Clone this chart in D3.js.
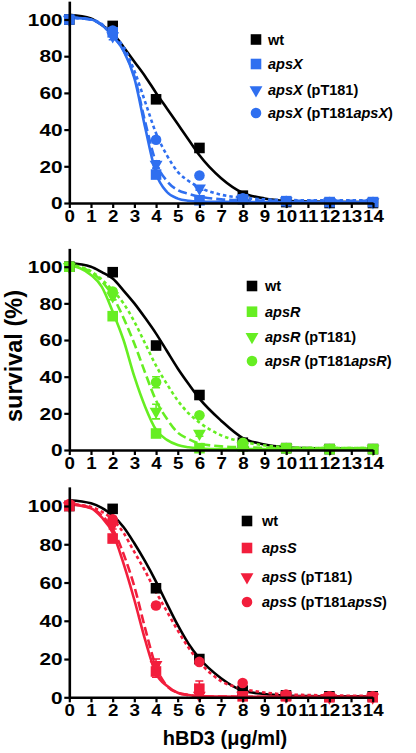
<!DOCTYPE html>
<html><head><meta charset="utf-8">
<script src="https://cdn.jsdelivr.net/npm/d3@7"></script>
<style>
body{margin:0;background:#fff}
text{font-family:Arial,'Liberation Sans',Helvetica,sans-serif;font-weight:bold;fill:#000}
</style>
</head><body><svg id="c" width="416" height="753"></svg>
<script>
// ---------- data ----------
const doses = [0, 2, 4, 6, 8, 10, 12, 14];
const xTicks = [0,1,2,3,4,5,6,7,8,9,10,11,12,13,14];
const yTicks = [0, 20, 40, 60, 80, 100];
const genes = ["apsX", "apsR", "apsS"];
const colors = ["#2f6ff0", "#66ee22", "#f21e3c"];
const curveX = [0,1,1.5,2,2.5,3,3.5,4,4.5,5,5.5,6,7,8,9,10,11,12,13,14];

// panel 1 (apsX): measured means
const p1Wt   = [100, 96.5, 56.5, 30, 4, 0.5, 0, 0];
const p1Mut  = [100, 93, 15.5, 1.5, 2, 1, 0.5, 0.5];
const p1Vec  = [100, 91, 21, 8, 2, 1, 0.5, 0.5];
const p1Comp = [100, 94, 34.5, 15, 2.5, 1, 0.5, 0.5];
const p1WtErr   = [0, 2, 2, 1, 1, 0, 0, 0];
const p1MutErr  = [0, 2, 1.5, 0.5, 0.5, 0, 0, 0];
const p1VecErr  = [0, 2, 2, 1, 0.5, 0, 0, 0];
const p1CompErr = [0, 1, 1.5, 1, 0.5, 0, 0, 0];
// panel 1 fitted curves (read at curveX)
const p1WtFit   = [102.5,100.5,97,92.5,85,77,69,60,51.5,43,34.5,26,13.5,5.5,2.5,1.2,0.8,0.6,0.5,0.5];
const p1MutFit  = [101,100,97,91,83,68,41,16,6,2.4,1.2,0.8,0.6,0.5,0.5,0.5,0.5,0.5,0.5,0.5];
const p1VecFit  = [101,100,97,91,83,69,44,22,12,7,5,3.5,2,1.5,1.3,1.2,1.2,1.2,1.2,1.2];
const p1CompFit = [101,100,97.5,92,85,72,55,38,26,17,12,8.5,4.5,2.8,2,1.6,1.5,1.5,1.5,1.5];

// panel 2 (apsR)
const p2Wt   = [100, 97, 57, 30, 4, 1, 0.5, 0.5];
const p2Mut  = [100, 73, 9, 1, 2, 1, 0.5, 0.5];
const p2Vec  = [100, 84, 21, 9, 2, 1, 0.5, 0.5];
const p2Comp = [100, 86.5, 37, 19, 4, 1, 0.5, 0.5];
const p2WtErr   = [0, 1.5, 2, 1, 1, 0, 0, 0];
const p2MutErr  = [0, 2, 1, 0.5, 0.5, 0, 0, 0];
const p2VecErr  = [0, 2, 4, 1.5, 0.5, 0, 0, 0];
const p2CompErr = [0, 1.5, 3, 1, 1, 0, 0, 0];
const p2WtFit   = [102,100,97,93.5,87,80,72,63.5,54,44.5,36,28,16,6.5,3,1.5,1,0.8,0.6,0.5];
const p2MutFit  = [101,95.5,89,75.5,60,40,23.5,11,5.5,2.7,1.5,0.8,0.5,0.5,0.5,0.5,0.5,0.5,0.5,0.5];
const p2VecFit  = [101,97,92,84,72,58,42,27,17,9.5,6,3.5,2,1.5,1.2,1,1,1,1,1];
const p2CompFit = [101,97.5,93,87,80,70,58,46,36,27,20,15,8,4.5,2.5,1.5,1.2,1,1,1];

// panel 3 (apsS)
const p3Wt   = [100, 98.5, 57, 20, 3.5, 1, 0.5, 0.5];
const p3Mut  = [100, 83, 13.5, 4.5, 0.5, 0.5, 0, 0];
const p3Vec  = [100, 90, 17, 1, 1, 0.5, 0, 0];
const p3Comp = [101, 93, 48, 18.5, 7.5, 1.5, 0.5, 0.5];
const p3WtErr   = [0, 1, 2, 1, 1, 0, 0, 0];
const p3MutErr  = [0, 2, 3, 4, 0.5, 0, 0, 0];
const p3VecErr  = [0, 2, 3, 0.5, 0.5, 0, 0, 0];
const p3CompErr = [0, 1.5, 1.5, 1, 1, 0, 0, 0];
const p3WtFit   = [103,101.4,99,95,89,80.5,71,60.5,49,37.8,28,20.4,10,3.5,1.7,0.9,0.6,0.5,0.5,0.5];
const p3MutFit  = [101,98.8,94,86,70,51,30,12.5,6,2.4,1.2,0.6,0.4,0.3,0.3,0.3,0.3,0.3,0.3,0.3];
const p3VecFit  = [101,99,95,88,75,58,36,16,6,2.4,1.2,0.6,0.4,0.3,0.3,0.3,0.3,0.3,0.3,0.3];
const p3CompFit = [101,99.5,97,93,86,76,66,55,45,35,26,18.5,8.5,4.5,2.5,1.5,1.2,1,0.8,0.7];

// ---------- layout ----------
const panels = [
  {gene: 0, pts: [p1Wt,p1Mut,p1Vec,p1Comp], err: [p1WtErr,p1MutErr,p1VecErr,p1CompErr],
   fits: [p1WtFit,p1MutFit,p1VecFit,p1CompFit],
   xl: 69.3, xr: 373, y0: 203, y100: 19.5, lx: 256, ltx: 268, ly: [39.5, 64, 90, 113]},
  {gene: 1, pts: [p2Wt,p2Mut,p2Vec,p2Comp], err: [p2WtErr,p2MutErr,p2VecErr,p2CompErr],
   fits: [p2WtFit,p2MutFit,p2VecFit,p2CompFit],
   xl: 69.3, xr: 373, y0: 450, y100: 266.7, lx: 252, ltx: 265, ly: [286, 311.7, 336.7, 361]},
  {gene: 2, pts: [p3Wt,p3Mut,p3Vec,p3Comp], err: [p3WtErr,p3MutErr,p3VecErr,p3CompErr],
   fits: [p3WtFit,p3MutFit,p3VecFit,p3CompFit],
   xl: 69.3, xr: 372.7, y0: 697.3, y100: 506, lx: 247, ltx: 262, ly: [521, 548, 577, 602]}
];

const svg = d3.select("#c");
svg.append("rect").attr("width",416).attr("height",753).attr("fill","#fff");

const symSquare = d3.symbol().type(d3.symbolSquare).size(112);
const symCircle = d3.symbol().type(d3.symbolCircle).size(88);
const symTri = d3.symbol().type(d3.symbolTriangle).size(72);
const dashes = [null, null, "9,4", "3.5,3"];

function drawMarker(g, k, color, x, y) {
  if (k === 0 || k === 1) {
    g.append("path").attr("d", symSquare()).attr("transform", `translate(${x},${y})`).attr("fill", color);
  } else if (k === 2) {
    g.append("path").attr("d", symTri()).attr("transform", `translate(${x},${y}) rotate(180)`).attr("fill", color);
  } else {
    g.append("path").attr("d", symCircle()).attr("transform", `translate(${x},${y})`).attr("fill", color);
  }
}

panels.forEach(p => {
  const gname = genes[p.gene];
  const col = colors[p.gene];
  const seriesColors = ["#000", col, col, col];
  const x = d3.scaleLinear().domain([0, 14]).range([p.xl, p.xr]);
  const y = d3.scaleLinear().domain([0, 100]).range([p.y0, p.y100]);
  const g = svg.append("g");

  // fitted curves
  const line = d3.line().x(d => x(d[0])).y(d => y(d[1])).curve(d3.curveMonotoneX);
  p.fits.forEach((f, k) => {
    g.append("path").datum(curveX.map((cx, i) => [cx, f[i]]))
      .attr("d", line).attr("fill", "none").attr("stroke", seriesColors[k])
      .attr("stroke-width", 2.6).attr("stroke-dasharray", dashes[k]);
  });

  // error bars + markers
  p.pts.forEach((vals, k) => {
    vals.forEach((v, i) => {
      const e = p.err[k][i];
      if (e > 0.8) {
        const cx = x(doses[i]);
        g.append("path").attr("d", `M${cx},${y(v+e)}V${y(v-e)}M${cx-4},${y(v+e)}H${cx+4}M${cx-4},${y(v-e)}H${cx+4}`)
          .attr("stroke", seriesColors[k]).attr("stroke-width", 1.6).attr("fill","none");
      }
    });
    vals.forEach((v, i) => drawMarker(g, k, seriesColors[k], x(doses[i]), y(v)));
  });

  // axes
  const yAx = d3.scaleLinear().domain([0, 110]).range([p.y0, p.y0 - (p.y0 - p.y100) * 1.1]);
  const ya = g.append("g").attr("transform", `translate(${p.xl},0)`)
    .call(d3.axisLeft(yAx).tickValues(yTicks).tickSize(5).tickSizeOuter(0).tickPadding(0));
  ya.select(".domain").attr("stroke-width", 2.6);
  ya.selectAll(".tick line").attr("stroke-width", 2.2);
  ya.selectAll(".tick text").attr("font-size", 16).attr("transform", "scale(1.3,1)")
    .attr("x", -5.2).attr("dy", "0.36em");

  const xa = g.append("g").attr("transform", `translate(0,${p.y0})`)
    .call(d3.axisBottom(x).tickValues(xTicks).tickSize(5).tickSizeOuter(0).tickPadding(2).tickFormat(d3.format("d")));
  xa.select(".domain").attr("stroke-width", 2.6);
  xa.selectAll(".tick line").attr("stroke-width", 2.2);
  xa.selectAll(".tick text").attr("font-size", 16.3).attr("transform", "scale(1.15,1)");
  [ya, xa].forEach(a => a.selectAll("text").attr("font-family", null).attr("fill", "#000"));
  ya.attr("font-family", null); xa.attr("font-family", null);

  // legend
  const labels = [
    [["wt", false]],
    [[gname, true]],
    [[gname, true], [" (pT181)", false]],
    [[gname, true], [" (pT181", false], [gname, true], [")", false]]
  ];
  labels.forEach((segs, k) => {
    drawMarker(g, k, seriesColors[k], p.lx, p.ly[k]);
    const t = g.append("text").attr("x", p.ltx).attr("y", p.ly[k]).attr("dy", "0.36em").attr("font-size", 14.5);
    segs.forEach(s => t.append("tspan").text(s[0]).attr("font-style", s[1] ? "italic" : "normal"));
  });
});

// axis titles
svg.append("text").attr("transform", "translate(22,356) rotate(-90)")
  .attr("text-anchor", "middle").attr("font-size", 23.5).text("survival (%)");
svg.append("text").attr("x", 225).attr("y", 745)
  .attr("text-anchor", "middle").attr("font-size", 20).text("hBD3 (μg/ml)");
</script>
</body></html>
